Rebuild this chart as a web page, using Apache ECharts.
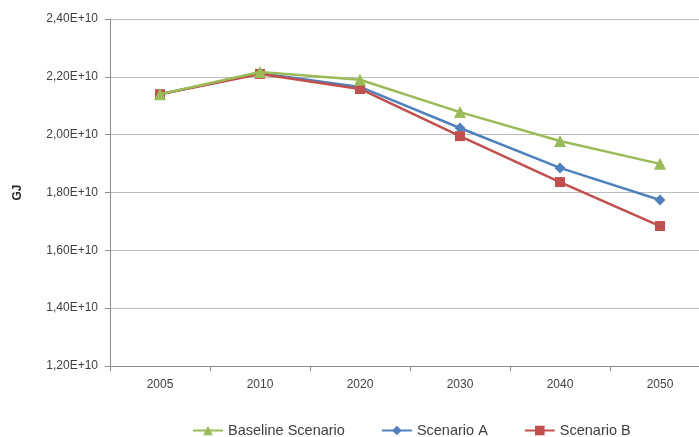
<!DOCTYPE html>
<html><head><meta charset="utf-8">
<script src="https://cdn.jsdelivr.net/npm/echarts@6/dist/echarts.min.js"></script>
<style>html,body{margin:0;padding:0;background:#fff}#c{width:699px;height:437px}</style>
</head><body><div id="c"></div>
<script>
const categories = ['2005','2010','2020','2030','2040','2050'];
const baseline = [2.14e10, 2.217e10, 2.19e10, 2.078e10, 1.978e10, 1.899e10];
const scenarioA = [2.14e10, 2.212e10, 2.165e10, 2.023e10, 1.885e10, 1.774e10];
const scenarioB = [2.14e10, 2.21e10, 2.158e10, 1.995e10, 1.836e10, 1.684e10];
const yTicks = { min: 1.2e10, max: 2.4e10, interval: 0.2e10 };

const font = 'Liberation Sans, Arial, sans-serif';
const chart = echarts.init(document.getElementById('c'));
function ser(name, data, color, symbol, size, z) {
  return { name, type: 'line', data, symbol, symbolSize: size, showSymbol: true, z,
    lineStyle: { color, width: 2.5 }, itemStyle: { color }, animation: false };
}
chart.setOption({
  animation: false,
  grid: { left: 110, width: 600, top: 19, bottom: 71, containLabel: false, outerBoundsMode: 'none' },
  legend: {
    top: 418, left: 187, itemWidth: 30, itemHeight: 12, itemGap: 36,
    textStyle: { fontFamily: font, fontSize: 14.5, color: '#404040' },
    data: ['Baseline Scenario', 'Scenario A', 'Scenario B']
  },
  xAxis: {
    type: 'category', data: categories, boundaryGap: true,
    axisLine: { lineStyle: { color: '#8c8c8c', width: 1 } },
    axisTick: { show: true, length: 5, lineStyle: { color: '#8c8c8c' } },
    axisLabel: { fontFamily: font, fontSize: 12, color: '#404040', margin: 13 }
  },
  yAxis: {
    type: 'value', min: yTicks.min, max: yTicks.max, interval: yTicks.interval,
    name: 'GJ', nameLocation: 'middle', nameRotate: 90, nameGap: 86,
    nameTextStyle: { fontFamily: font, fontSize: 12, fontWeight: 'bold', color: '#262626' },
    axisLine: { show: true, lineStyle: { color: '#8c8c8c' } },
    axisTick: { show: true, length: 5, lineStyle: { color: '#8c8c8c' } },
    splitLine: { lineStyle: { color: '#bdbdbd', width: 1 } },
    axisLabel: { fontFamily: font, fontSize: 12, color: '#404040', margin: 12,
      formatter: v => (v / 1e10).toFixed(2).replace('.', ',') + 'E+10' }
  },
  series: [
    ser('Scenario A', scenarioA, '#4F81BD', 'diamond', 11, 2),
    ser('Scenario B', scenarioB, '#C0504D', 'rect', 10, 3),
    ser('Baseline Scenario', baseline, '#9BBB59', 'triangle', 12, 4)
  ]
});
</script></body></html>
